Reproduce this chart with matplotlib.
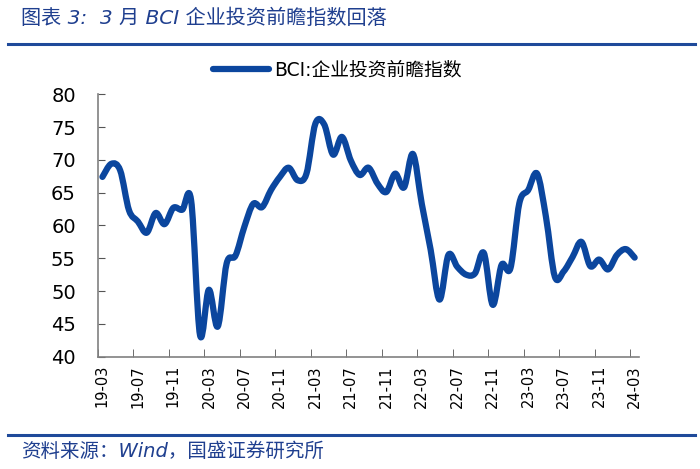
import numpy as np
import matplotlib
matplotlib.use("Agg")
import matplotlib.pyplot as plt
from matplotlib.path import Path
from matplotlib.patches import PathPatch
from matplotlib.lines import Line2D

plt.rcParams['font.family'] = ['DejaVu Sans', 'Noto Sans CJK SC']

# BCI 企业投资前瞻指数, monthly 2019-03 .. 2024-03
bci = [67.4, 69.4, 68.4, 62.3, 60.6, 58.9, 61.9, 60.2, 62.7, 62.4,
       63.8, 43.3, 50.2, 44.6, 54.2, 55.4, 59.8, 63.3, 62.8, 65.4,
       67.4, 68.8, 66.9, 67.9, 75.5, 75.4, 70.8, 73.5, 69.9, 67.7,
       68.8, 66.4, 65.1, 67.9, 65.8, 70.9, 63.3, 56.3, 48.7, 55.5,
       53.7, 52.5, 52.7, 55.8, 47.9, 54.0, 53.5, 63.4, 65.4, 67.9,
       61.3, 52.2, 53.0, 55.2, 57.5, 53.8, 54.8, 53.3, 55.5, 56.4,
       55.1]
months = []
for y in range(19, 25):
    for m in range(1, 13):
        months.append(f"{y:02d}-{m:02d}")
months = months[2:2 + len(bci)]
yticks = [40, 45, 50, 55, 60, 65, 70, 75, 80]

title = "图表 3:  3 月 BCI 企业投资前瞻指数回落"
legend_label = "BCI:企业投资前瞻指数"
source = "资料来源：Wind，国盛证券研究所"

line_color = "#0b469e"
rule_color = "#1f4a9a"
fonts = ['DejaVu Sans', 'Noto Sans CJK SC']

fig = plt.figure(figsize=(7, 4.69), dpi=100)
ax = fig.add_axes([0.14, 0.2395, 0.773, 0.5595])

# smooth line (Catmull-Rom -> cubic Bezier), like Excel's smoothed line
x = np.arange(len(bci), dtype=float)
y = np.array(bci)
verts = [(x[0], y[0])]
codes = [Path.MOVETO]
for i in range(len(x) - 1):
    p0 = (x[max(i - 1, 0)], y[max(i - 1, 0)])
    p1 = (x[i], y[i])
    p2 = (x[i + 1], y[i + 1])
    p3 = (x[min(i + 2, len(x) - 1)], y[min(i + 2, len(x) - 1)])
    c1 = (p1[0] + (p2[0] - p0[0]) / 6, p1[1] + (p2[1] - p0[1]) / 6)
    c2 = (p2[0] - (p3[0] - p1[0]) / 6, p2[1] - (p3[1] - p1[1]) / 6)
    verts += [c1, c2, p2]
    codes += [Path.CURVE4] * 3
patch = PathPatch(Path(verts, codes), facecolor='none', edgecolor=line_color,
                  lw=4.5, capstyle='round', joinstyle='round')
ax.add_patch(patch)

ax.set_xlim(-0.5, len(bci) - 0.5)
ax.set_ylim(40, 80)
ax.set_yticks(yticks)
ax.set_xticks(x[::4])
ax.set_xticklabels(months[::4], rotation=90, fontsize=10.5)
ax.set_xticks(np.arange(-0.5, len(bci) - 0.5, 4), minor=True)
ax.tick_params(axis='x', which='major', length=0, pad=6)
ax.tick_params(axis='x', which='minor', direction='in', length=6, color='#555555')
ax.tick_params(axis='y', direction='in', length=5, color='#555555', labelsize=14, pad=16)
for s in ['top', 'right']:
    ax.spines[s].set_visible(False)
for s in ['left', 'bottom']:
    ax.spines[s].set_color('#808080')
    ax.spines[s].set_linewidth(1.2)

handle = Line2D([], [], color=line_color, lw=4.5, solid_capstyle='round')
leg = fig.legend([handle], [legend_label], loc='center', bbox_to_anchor=(0.482, 0.85),
                 frameon=False, handlelength=3.0, handletextpad=0.25,
                 prop={'family': fonts, 'size': 13.5})

fig.text(0.03, 0.962, title, fontsize=14.5, style='italic', color='#1f3f8f',
         va='center', ha='left', family=fonts)
fig.add_artist(Line2D([0.012, 0.993], [0.907, 0.907], color=rule_color, lw=2.2))
fig.add_artist(Line2D([0.012, 0.993], [0.073, 0.073], color=rule_color, lw=2.2))
fig.text(0.03, 0.038, source, fontsize=14, style='italic', color='#1f3f8f',
         va='center', ha='left', family=fonts)

fig.savefig("out.png", dpi=100)
